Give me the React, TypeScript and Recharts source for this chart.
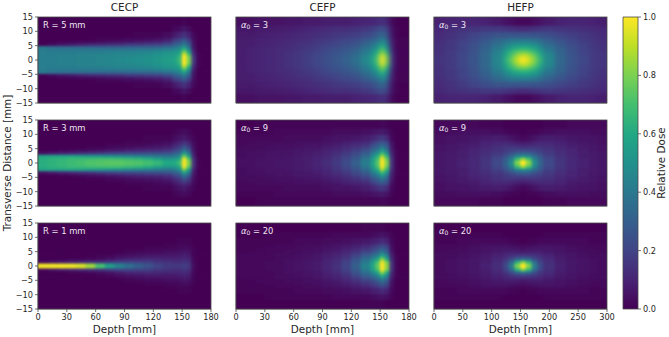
import { Bar, BarChart, Scatter, ScatterChart, XAxis, YAxis } from "recharts";

// half-profiles: the picture is mirror symmetric about transverse = 0
// rows follow TRANSVERSE_EDGES, columns follow the depth edges, values are dose in %
const TRANSVERSE_EDGES = [0, 1, 2, 3, 4, 5, 6, 7, 8, 10, 12, 15];
const DEPTH_EDGES_180 = [0, 10, 20, 30, 40, 50, 60, 70, 80, 90, 100, 110, 120, 130, 140, 145, 150, 155, 160, 165, 170, 180];
const DEPTH_EDGES_300 = [0, 20, 40, 60, 80, 100, 120, 130, 140, 150, 160, 170, 180, 190, 210, 230, 250, 270, 285, 300];

const CECP_R5 = [
  [42, 42, 43, 43, 44, 44, 45, 46, 47, 48, 49, 50, 52, 55, 58, 66, 100, 80, 16, 1, 0],
  [42, 42, 43, 43, 44, 44, 45, 46, 46, 47, 48, 49, 51, 54, 56, 64, 100, 76, 14, 1, 0],
  [42, 42, 42, 42, 43, 43, 43, 44, 45, 45, 46, 47, 49, 52, 54, 58, 88, 62, 11, 1, 0],
  [42, 41, 41, 41, 41, 41, 41, 41, 41, 41, 42, 42, 44, 46, 48, 52, 70, 50, 8, 0, 0],
  [40, 36, 35, 34, 33, 33, 32, 32, 32, 32, 32, 32, 33, 36, 40, 44, 55, 38, 6, 0, 0],
  [1, 4, 6, 8, 10, 12, 13, 14, 15, 17, 18, 19, 20, 24, 30, 34, 42, 29, 5, 0, 0],
  [0, 0, 1, 1, 2, 2, 3, 4, 5, 6, 7, 8, 9, 13, 22, 25, 32, 22, 4, 0, 0],
  [0, 0, 0, 0, 0, 0, 1, 1, 1, 2, 2, 3, 4, 7, 15, 18, 24, 16, 3, 0, 0],
  [0, 0, 0, 0, 0, 0, 0, 0, 0, 0, 1, 1, 1, 3, 7, 10, 14, 9, 2, 0, 0],
  [0, 0, 0, 0, 0, 0, 0, 0, 0, 0, 0, 0, 0, 0, 2, 3, 6, 3, 0, 0, 0],
  [0, 0, 0, 0, 0, 0, 0, 0, 0, 0, 0, 0, 0, 0, 0, 0, 1, 0, 0, 0, 0],
];
const CECP_R3 = [
  [62, 64, 66, 68, 70, 72, 73, 74, 74, 73, 72, 70, 66, 60, 60, 68, 100, 80, 14, 1, 0],
  [62, 64, 65, 67, 68, 69, 70, 70, 69, 67, 65, 62, 57, 52, 54, 60, 98, 72, 12, 1, 0],
  [58, 58, 58, 58, 56, 54, 52, 50, 48, 46, 44, 42, 40, 38, 42, 48, 78, 55, 9, 0, 0],
  [5, 8, 10, 12, 14, 16, 18, 20, 21, 22, 23, 24, 24, 26, 30, 35, 56, 40, 7, 0, 0],
  [0, 0, 1, 2, 3, 4, 5, 7, 8, 10, 11, 12, 13, 15, 21, 26, 40, 28, 5, 0, 0],
  [0, 0, 0, 0, 0, 1, 1, 2, 3, 4, 5, 6, 7, 9, 14, 18, 28, 19, 4, 0, 0],
  [0, 0, 0, 0, 0, 0, 0, 1, 1, 2, 2, 3, 4, 5, 10, 13, 19, 14, 3, 0, 0],
  [0, 0, 0, 0, 0, 0, 0, 0, 0, 1, 1, 1, 2, 3, 6, 9, 13, 9, 2, 0, 0],
  [0, 0, 0, 0, 0, 0, 0, 0, 0, 0, 0, 1, 1, 1, 3, 5, 7, 4, 1, 0, 0],
  [0, 0, 0, 0, 0, 0, 0, 0, 0, 0, 0, 0, 0, 0, 1, 2, 3, 2, 0, 0, 0],
  [0, 0, 0, 0, 0, 0, 0, 0, 0, 0, 0, 0, 0, 0, 0, 0, 0, 0, 0, 0, 0],
];
const CECP_R1 = [
  [98, 98, 98, 97, 94, 85, 70, 55, 44, 36, 30, 25, 20, 17, 16, 16, 18, 16, 3, 0, 0],
  [2, 5, 8, 10, 12, 14, 15, 18, 20, 20, 19, 18, 15, 14, 13, 13, 15, 13, 2, 0, 0],
  [0, 0, 0, 1, 1, 2, 3, 5, 8, 10, 11, 12, 11, 10, 10, 10, 12, 10, 2, 0, 0],
  [0, 0, 0, 0, 0, 0, 1, 2, 4, 5, 6, 7, 7, 7, 7, 8, 9, 8, 1, 0, 0],
  [0, 0, 0, 0, 0, 0, 0, 0, 1, 2, 3, 4, 4, 5, 5, 6, 7, 6, 1, 0, 0],
  [0, 0, 0, 0, 0, 0, 0, 0, 0, 1, 1, 2, 2, 3, 3, 4, 5, 4, 1, 0, 0],
  [0, 0, 0, 0, 0, 0, 0, 0, 0, 0, 0, 1, 1, 1, 2, 2, 3, 3, 1, 0, 0],
  [0, 0, 0, 0, 0, 0, 0, 0, 0, 0, 0, 0, 0, 1, 1, 2, 2, 1, 0, 0, 0],
  [0, 0, 0, 0, 0, 0, 0, 0, 0, 0, 0, 0, 0, 0, 0, 1, 1, 1, 0, 0, 0],
  [0, 0, 0, 0, 0, 0, 0, 0, 0, 0, 0, 0, 0, 0, 0, 0, 0, 0, 0, 0, 0],
  [0, 0, 0, 0, 0, 0, 0, 0, 0, 0, 0, 0, 0, 0, 0, 0, 0, 0, 0, 0, 0],
];
const CEFP_A3 = [
  [8, 9, 10, 11, 12, 14, 16, 18, 21, 24, 27, 31, 36, 46, 58, 72, 100, 78, 18, 2, 1],
  [8, 9, 10, 11, 12, 14, 16, 18, 21, 24, 27, 30, 35, 45, 56, 69, 97, 75, 17, 2, 1],
  [8, 9, 10, 11, 12, 14, 16, 18, 20, 23, 26, 29, 33, 42, 52, 63, 86, 66, 15, 2, 1],
  [8, 9, 10, 11, 12, 13, 15, 17, 19, 22, 25, 27, 31, 39, 48, 57, 76, 58, 13, 1, 1],
  [8, 9, 10, 11, 12, 13, 14, 16, 18, 21, 23, 26, 29, 36, 44, 50, 66, 50, 12, 1, 1],
  [8, 8, 9, 10, 11, 12, 14, 15, 17, 19, 21, 24, 26, 33, 39, 44, 57, 43, 10, 1, 1],
  [8, 8, 9, 10, 11, 12, 13, 14, 16, 18, 20, 22, 24, 29, 35, 38, 49, 37, 9, 1, 1],
  [8, 8, 9, 9, 10, 11, 12, 13, 15, 16, 18, 20, 22, 26, 30, 33, 42, 32, 8, 1, 1],
  [7, 7, 8, 9, 9, 10, 11, 12, 13, 14, 16, 17, 18, 21, 25, 27, 33, 25, 6, 1, 0],
  [6, 6, 7, 7, 8, 8, 9, 10, 11, 12, 13, 13, 14, 16, 18, 21, 24, 19, 5, 1, 0],
  [4, 4, 5, 5, 5, 6, 6, 7, 7, 8, 8, 8, 9, 10, 11, 12, 14, 11, 3, 0, 0],
];
const CEFP_A9 = [
  [4, 4, 5, 5, 6, 6, 7, 8, 10, 13, 17, 23, 30, 42, 56, 72, 100, 80, 15, 1, 0],
  [4, 4, 5, 5, 6, 6, 7, 8, 10, 12, 16, 21, 28, 39, 54, 69, 98, 75, 14, 1, 0],
  [3, 4, 4, 5, 5, 6, 7, 8, 9, 11, 15, 19, 25, 34, 48, 61, 86, 64, 12, 1, 0],
  [3, 4, 4, 5, 5, 5, 6, 7, 8, 10, 13, 17, 22, 29, 41, 50, 68, 51, 10, 1, 0],
  [3, 3, 4, 4, 5, 5, 6, 6, 7, 9, 11, 14, 18, 24, 33, 40, 54, 40, 8, 1, 0],
  [3, 3, 3, 4, 4, 4, 5, 6, 6, 8, 9, 12, 15, 19, 27, 32, 42, 31, 7, 0, 0],
  [2, 3, 3, 3, 4, 4, 4, 5, 5, 6, 8, 10, 12, 15, 22, 27, 32, 26, 6, 0, 0],
  [2, 2, 3, 3, 3, 3, 4, 4, 4, 5, 6, 8, 9, 11, 17, 21, 25, 20, 4, 0, 0],
  [2, 2, 2, 2, 2, 3, 3, 3, 3, 4, 5, 5, 6, 8, 10, 13, 16, 12, 2, 0, 0],
  [1, 1, 1, 1, 2, 2, 2, 2, 2, 2, 3, 3, 3, 4, 5, 6, 7, 5, 1, 0, 0],
  [0, 0, 1, 1, 1, 1, 1, 1, 1, 1, 1, 1, 1, 1, 1, 1, 2, 1, 0, 0, 0],
];
const CEFP_A20 = [
  [2, 2, 2, 3, 3, 4, 5, 6, 7, 10, 14, 20, 30, 44, 58, 74, 100, 82, 15, 1, 0],
  [2, 2, 2, 3, 3, 4, 5, 6, 7, 10, 13, 19, 28, 41, 55, 70, 98, 77, 14, 1, 0],
  [2, 2, 2, 2, 3, 4, 4, 5, 6, 9, 12, 17, 25, 36, 46, 57, 82, 60, 11, 1, 0],
  [2, 2, 2, 2, 3, 3, 4, 5, 6, 8, 10, 14, 21, 30, 37, 45, 62, 46, 9, 1, 0],
  [1, 2, 2, 2, 3, 3, 3, 4, 5, 7, 9, 12, 17, 24, 29, 35, 47, 35, 7, 0, 0],
  [1, 1, 2, 2, 2, 3, 3, 4, 4, 6, 7, 10, 13, 18, 22, 27, 36, 27, 5, 0, 0],
  [1, 1, 1, 2, 2, 2, 3, 3, 4, 5, 6, 8, 10, 14, 18, 22, 27, 22, 4, 0, 0],
  [1, 1, 1, 1, 2, 2, 2, 3, 3, 4, 5, 6, 8, 10, 13, 16, 20, 16, 3, 0, 0],
  [1, 1, 1, 1, 1, 1, 2, 2, 2, 3, 3, 4, 5, 6, 8, 9, 12, 9, 2, 0, 0],
  [0, 0, 0, 1, 1, 1, 1, 1, 1, 1, 2, 2, 2, 2, 3, 4, 5, 4, 1, 0, 0],
  [0, 0, 0, 0, 0, 0, 0, 0, 0, 0, 0, 0, 0, 1, 1, 1, 1, 0, 0, 0, 0],
];
const HEFP_A3 = [
  [15, 17, 21, 26, 33, 45, 62, 76, 90, 100, 92, 80, 65, 47, 33, 26, 21, 17, 15],
  [15, 17, 21, 26, 33, 45, 60, 73, 86, 94, 88, 77, 62, 46, 33, 26, 21, 17, 15],
  [14, 17, 21, 26, 33, 44, 57, 68, 78, 84, 79, 71, 58, 44, 32, 25, 20, 17, 15],
  [14, 17, 20, 25, 32, 42, 53, 62, 69, 72, 70, 63, 53, 41, 31, 25, 20, 17, 14],
  [14, 16, 20, 25, 31, 40, 48, 55, 60, 62, 60, 56, 48, 38, 30, 24, 20, 16, 14],
  [14, 16, 20, 24, 30, 37, 44, 48, 51, 52, 51, 48, 43, 35, 28, 23, 19, 16, 14],
  [13, 16, 19, 23, 28, 34, 39, 42, 43, 44, 43, 41, 37, 31, 26, 22, 18, 16, 13],
  [13, 15, 18, 22, 26, 31, 34, 36, 36, 36, 36, 34, 32, 28, 24, 20, 17, 15, 13],
  [12, 14, 17, 20, 23, 25, 26, 26, 25, 25, 25, 25, 25, 23, 20, 18, 16, 14, 12],
  [11, 13, 14, 15, 16, 16, 15, 14, 13, 12, 13, 14, 15, 16, 15, 14, 13, 12, 11],
  [9, 10, 10, 10, 9, 7, 5, 4, 2, 2, 2, 4, 5, 7, 9, 10, 10, 9, 8],
];
const HEFP_A9 = [
  [6, 7, 9, 11, 15, 22, 31, 47, 80, 100, 82, 49, 32, 22, 15, 11, 9, 7, 6],
  [6, 7, 9, 11, 15, 21, 29, 42, 68, 84, 70, 44, 30, 21, 15, 11, 9, 7, 6],
  [6, 7, 8, 11, 14, 19, 25, 33, 45, 50, 46, 35, 27, 19, 14, 11, 8, 7, 6],
  [6, 7, 8, 10, 13, 16, 20, 25, 30, 32, 31, 26, 21, 17, 13, 10, 8, 7, 6],
  [5, 6, 8, 10, 12, 14, 17, 19, 21, 22, 21, 20, 18, 15, 12, 10, 8, 6, 5],
  [5, 6, 7, 9, 11, 14, 16, 16, 16, 15, 16, 16, 15, 14, 11, 9, 7, 6, 5],
  [5, 6, 7, 8, 10, 12, 13, 12, 11, 10, 11, 12, 13, 12, 10, 8, 7, 6, 5],
  [4, 5, 6, 7, 9, 10, 10, 9, 7, 6, 7, 9, 10, 10, 9, 7, 6, 5, 4],
  [4, 5, 5, 6, 7, 8, 7, 5, 3, 2, 3, 5, 7, 8, 7, 6, 5, 5, 4],
  [3, 3, 4, 4, 4, 3, 2, 1, 1, 0, 1, 1, 2, 3, 4, 4, 4, 3, 3],
  [2, 2, 2, 2, 1, 1, 0, 0, 0, 0, 0, 0, 0, 1, 1, 2, 2, 2, 2],
];
const HEFP_A20 = [
  [3, 4, 5, 6, 9, 13, 22, 40, 78, 100, 80, 42, 23, 14, 9, 6, 5, 4, 3],
  [3, 4, 5, 6, 8, 12, 19, 33, 62, 80, 64, 35, 20, 13, 8, 6, 5, 4, 3],
  [3, 4, 5, 6, 8, 11, 15, 22, 32, 36, 33, 23, 16, 12, 8, 6, 5, 4, 3],
  [3, 3, 4, 5, 7, 9, 12, 15, 18, 19, 18, 16, 13, 10, 7, 5, 4, 3, 3],
  [3, 3, 4, 5, 6, 8, 10, 11, 11, 11, 11, 11, 10, 8, 6, 5, 4, 3, 3],
  [2, 3, 3, 4, 5, 6, 7, 7, 7, 6, 7, 7, 7, 6, 5, 4, 3, 3, 2],
  [2, 2, 3, 4, 5, 6, 6, 6, 5, 4, 5, 6, 6, 6, 5, 4, 3, 2, 2],
  [2, 2, 2, 3, 4, 4, 4, 3, 2, 2, 2, 3, 4, 4, 4, 3, 2, 2, 2],
  [1, 1, 2, 2, 2, 2, 2, 1, 1, 0, 1, 1, 2, 2, 2, 2, 2, 1, 1],
  [1, 1, 1, 1, 1, 1, 0, 0, 0, 0, 0, 0, 0, 1, 1, 1, 1, 1, 1],
  [0, 0, 0, 0, 0, 0, 0, 0, 0, 0, 0, 0, 0, 0, 0, 0, 0, 0, 0],
];

const TRANSVERSE_TICKS = [-15, -10, -5, 0, 5, 10, 15];
const DEPTH_TICKS_180 = [0, 30, 60, 90, 120, 150, 180];
const DEPTH_TICKS_300 = [0, 50, 100, 150, 200, 250, 300];
const DOSE_TICKS = [0, 0.2, 0.4, 0.6, 0.8, 1];
const COLUMN_TITLES = ["CECP", "CEFP", "HEFP"];
const COLORBAR_DATA = [{ name: "dose", dose: 1 }];

const VIRIDIS = ["#440154", "#482475", "#414487", "#355f8d", "#2a788e", "#21918c", "#22a884", "#44bf70", "#7ad151", "#bddf26", "#fde725"];

const PLOT_W = 173;
const PLOT_H = 86;
const COL_X = [38, 236, 434];
const ROW_Y = [17, 120, 223];
const AXIS_W = 30;
const TEXT = "#262626";
const SPINE = "#4a4a4a";
const FONT = "'DejaVu Sans', sans-serif";

function viridis(value: number) {
  const t = Math.max(0, Math.min(1, value)) * (VIRIDIS.length - 1);
  const i = Math.min(Math.floor(t), VIRIDIS.length - 2);
  const mix = (a: string, b: string, s: number) => {
    const p = parseInt(a.slice(1), 16);
    const q = parseInt(b.slice(1), 16);
    const ch = (n: number) => {
      const from = (p >> n) & 255;
      const to = (q >> n) & 255;
      return Math.round(from + (to - from) * s);
    };
    return `rgb(${ch(16)},${ch(8)},${ch(0)})`;
  };
  return mix(VIRIDIS[i], VIRIDIS[i + 1], t - i);
}

// expands a half profile into one record per cell, both sides of the axis
function buildCells(rows: number[][], edges: number[]) {
  const cells: any[] = [];
  rows.forEach((row, r) => {
    const t0 = TRANSVERSE_EDGES[r];
    const t1 = TRANSVERSE_EDGES[r + 1];
    row.forEach((dose, c) => {
      const d0 = edges[c];
      const d1 = edges[c + 1];
      [1, -1].forEach((side) => {
        cells.push({
          depth: (d0 + d1) / 2,
          transverse: (side * (t0 + t1)) / 2,
          dose: dose / 100,
          d0,
          d1,
          t0,
          t1,
        });
      });
    });
  });
  return cells;
}

function cellShape(depthMax: number) {
  const pxX = PLOT_W / depthMax;
  const pxY = PLOT_H / 30;
  return (props: any) => {
    const { cx, cy, payload } = props;
    const w = (payload.d1 - payload.d0) * pxX;
    const h = (payload.t1 - payload.t0) * pxY;
    // outer cells run past the frame so the softening does not fade the edges
    const left = payload.d0 === 0 ? 10 : 0.4;
    const right = payload.d1 === depthMax ? 10 : 0.4;
    const outer = payload.t1 === 15 ? 10 : 0.4;
    const top = payload.transverse > 0 ? outer : 0.4;
    const bottom = payload.transverse < 0 ? outer : 0.4;
    return (
      <rect
        x={cx - w / 2 - left}
        y={cy - h / 2 - top}
        width={w + left + right}
        height={h + top + bottom}
        fill={viridis(payload.dose)}
      />
    );
  };
}

const formatTick = (v: number) => String(v).replace("-", "\u2212");

type PanelProps = {
  col: number;
  row: number;
  rows: number[][];
  edges: number[];
  depthTicks: number[];
  note: React.ReactNode;
};

function Panel({ col, row, rows, edges, depthTicks, note }: PanelProps) {
  const depthMax = edges[edges.length - 1];
  const bottom = row === 2;
  const xHeight = bottom ? 30 : 5;
  const heatClass = col === 0 ? "heat-sharp" : row === 0 ? "heat-soft" : "heat-fine";
  return (
    <div style={{ position: "absolute", left: COL_X[col] - AXIS_W, top: ROW_Y[row] }}>
      <ScatterChart
        width={AXIS_W + PLOT_W + 10}
        height={PLOT_H + xHeight}
        margin={{ top: 0, right: 10, bottom: 0, left: 0 }}
      >
        <XAxis
          type="number"
          dataKey="depth"
          domain={[0, depthMax]}
          ticks={depthTicks}
          interval={0}
          allowDataOverflow
          height={xHeight}
          tickSize={3}
          tick={bottom ? { fontSize: 8.2, fill: TEXT } : false}
          axisLine={{ stroke: SPINE, strokeWidth: 0.8 }}
          tickLine={{ stroke: SPINE, strokeWidth: 0.8 }}
          label={
            bottom
              ? { value: "Depth [mm]", position: "insideBottom", offset: 6, fontSize: 10.4, fill: TEXT }
              : undefined
          }
        />
        <YAxis
          type="number"
          dataKey="transverse"
          domain={[-15, 15]}
          ticks={TRANSVERSE_TICKS}
          interval={0}
          allowDataOverflow
          width={AXIS_W}
          tickSize={3}
          tickFormatter={formatTick}
          tick={col === 0 ? { fontSize: 8.2, fill: TEXT } : false}
          axisLine={{ stroke: SPINE, strokeWidth: 0.8 }}
          tickLine={{ stroke: SPINE, strokeWidth: 0.8 }}
        />
        <Scatter
          className={heatClass}
          data={buildCells(rows, edges)}
          shape={cellShape(depthMax)}
          isAnimationActive={false}
        />
      </ScatterChart>
      <svg
        width={AXIS_W + PLOT_W + 10}
        height={PLOT_H + 1}
        style={{ position: "absolute", left: 0, top: 0, overflow: "visible", pointerEvents: "none" }}
      >
        <rect x={AXIS_W} y={0} width={PLOT_W} height={PLOT_H} fill="none" stroke={SPINE} strokeWidth={0.8} />
        <text x={AXIS_W + 5} y={10.5} fontSize={8.4} fill="#efe6f2">
          {note}
        </text>
        {row === 0 && (
          <text x={AXIS_W + PLOT_W / 2} y={-6} fontSize={10.4} fill={TEXT} textAnchor="middle">
            {COLUMN_TITLES[col]}
          </text>
        )}
      </svg>
    </div>
  );
}

const alphaNote = (value: number) => (
  <>
    <tspan fontStyle="italic">α</tspan>
    <tspan fontSize={6} dy={1.5}>0</tspan>
    <tspan dy={-1.5}> = {value}</tspan>
  </>
);

const sideLabel = (x: number, text: string) => (
  <div
    style={{
      position: "absolute",
      left: x,
      top: 163,
      fontSize: 10.4,
      color: TEXT,
      whiteSpace: "nowrap",
      transform: "translate(-50%, -50%) rotate(-90deg)",
    }}
  >
    {text}
  </div>
);

export default function App() {
  return (
    <div style={{ position: "absolute", left: 0, top: 0, width: 669, height: 337, fontFamily: FONT, background: "#fff", overflow: "hidden" }}>
      <style>{`.recharts-surface{overflow:visible}.heat-sharp{filter:url(#sharp)}.heat-soft{filter:url(#soft)}.heat-fine{filter:url(#fine)}`}</style>
      <svg style={{ position: "absolute", width: 0, height: 0 }}>
        <defs>
          <filter id="sharp" x="-5%" y="-5%" width="110%" height="110%" colorInterpolationFilters="sRGB">
            <feGaussianBlur stdDeviation="1.6 0.8" />
          </filter>
          <filter id="soft" x="-5%" y="-5%" width="110%" height="110%" colorInterpolationFilters="sRGB">
            <feGaussianBlur stdDeviation="2.4 1.7" />
          </filter>
          <filter id="fine" x="-5%" y="-5%" width="110%" height="110%" colorInterpolationFilters="sRGB">
            <feGaussianBlur stdDeviation="1.7 1.1" />
          </filter>
          <linearGradient id="viridisBar" x1="0" y1="1" x2="0" y2="0">
            {VIRIDIS.map((c, i) => (
              <stop key={c} offset={i / (VIRIDIS.length - 1)} stopColor={c} />
            ))}
          </linearGradient>
        </defs>
      </svg>

      <Panel col={0} row={0} rows={CECP_R5} edges={DEPTH_EDGES_180} depthTicks={DEPTH_TICKS_180} note="R = 5 mm" />
      <Panel col={0} row={1} rows={CECP_R3} edges={DEPTH_EDGES_180} depthTicks={DEPTH_TICKS_180} note="R = 3 mm" />
      <Panel col={0} row={2} rows={CECP_R1} edges={DEPTH_EDGES_180} depthTicks={DEPTH_TICKS_180} note="R = 1 mm" />
      <Panel col={1} row={0} rows={CEFP_A3} edges={DEPTH_EDGES_180} depthTicks={DEPTH_TICKS_180} note={alphaNote(3)} />
      <Panel col={1} row={1} rows={CEFP_A9} edges={DEPTH_EDGES_180} depthTicks={DEPTH_TICKS_180} note={alphaNote(9)} />
      <Panel col={1} row={2} rows={CEFP_A20} edges={DEPTH_EDGES_180} depthTicks={DEPTH_TICKS_180} note={alphaNote(20)} />
      <Panel col={2} row={0} rows={HEFP_A3} edges={DEPTH_EDGES_300} depthTicks={DEPTH_TICKS_300} note={alphaNote(3)} />
      <Panel col={2} row={1} rows={HEFP_A9} edges={DEPTH_EDGES_300} depthTicks={DEPTH_TICKS_300} note={alphaNote(9)} />
      <Panel col={2} row={2} rows={HEFP_A20} edges={DEPTH_EDGES_300} depthTicks={DEPTH_TICKS_300} note={alphaNote(20)} />

      {sideLabel(7, "Transverse Distance [mm]")}
      {sideLabel(661, "Relative Dose")}

      <div style={{ position: "absolute", left: 623, top: 17 }}>
        <BarChart
          width={15 + 30}
          height={292}
          data={COLORBAR_DATA}
          margin={{ top: 0, right: 0, bottom: 0, left: 0 }}
          barCategoryGap={0}
        >
          <XAxis dataKey="name" hide />
          <YAxis
            orientation="right"
            type="number"
            domain={[0, 1]}
            ticks={DOSE_TICKS}
            interval={0}
            width={30}
            tickSize={3}
            tickFormatter={(v: number) => v.toFixed(1)}
            tick={{ fontSize: 8.2, fill: TEXT }}
            axisLine={false}
            tickLine={{ stroke: SPINE, strokeWidth: 0.8 }}
          />
          <Bar dataKey="dose" fill="url(#viridisBar)" stroke={SPINE} strokeWidth={0.8} isAnimationActive={false} />
        </BarChart>
      </div>
    </div>
  );
}
